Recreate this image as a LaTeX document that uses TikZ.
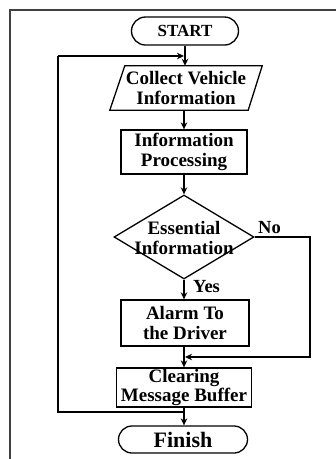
\documentclass[tikz,border=0pt]{standalone}
\usepackage{fontspec}
\setmainfont{Liberation Serif}
\usetikzlibrary{shapes.geometric,shapes.misc,arrows.meta,calc}
\begin{document}
\begin{tikzpicture}[x=1pt,y=1pt,
  every node/.style={font=\bfseries\fontsize{19}{19.5}\selectfont, align=center, inner sep=0pt},
  term/.style={draw, rounded rectangle, line width=1.3pt},
  proc/.style={draw, rectangle, line width=1.3pt},
  shp/.style={line width=1.3pt},
  conn/.style={line width=1.6pt},
  arr/.style={conn, -{Stealth[length=7pt,width=6.5pt]}}]
\useasboundingbox (0,0) rectangle (336,-459);
% frame
\coordinate (fb) at (10,-459);
\coordinate (fc) at (10,-10);
\coordinate (fr) at (336,-10);
\draw[line width=1.3pt, black!75] (fb) -- (fc) -- (fr);
% nodes
\node[term, minimum width=107, minimum height=28, font=\bfseries\fontsize{17}{19}\selectfont] (start) at (185,-31) {START};
\node[minimum width=152, minimum height=44] (collect) at (186,-88) {Collect Vehicle\\Information};
\draw[shp] ($(collect.north west)+(15,0)$) -- (collect.north east) -- ($(collect.south east)+(-14,0)$) -- (collect.south west) -- cycle;
\node[proc, minimum width=126, minimum height=44] (proc) at (184,-152) {Information\\Processing};
\node[draw, diamond, aspect=1.667, minimum width=140, minimum height=84, line width=1.3pt] (dec) at (184,-237) {};
\node (dectext) at (184,-238) {Essential\\Information};
\node[proc, minimum width=128, minimum height=46] (alarm) at (185,-323) {Alarm To\\the Driver};
\node[proc, minimum width=135, minimum height=39, font=\bfseries\fontsize{19}{16.5}\selectfont] (clear) at (184,-387.5) {Clearing\\Message Buffer};
\node[term, minimum width=129, minimum height=27, font=\bfseries\fontsize{22}{24}\selectfont] (finish) at (183,-439.5) {Finish};
% labels
\node[anchor=base west, font=\bfseries\fontsize{18.5}{19}\selectfont] (yeslab) at (193,-292) {Yes};
\node[anchor=base west, font=\bfseries\fontsize{18.5}{19}\selectfont] (nolab) at (258,-233) {No};
% connectors
\draw[arr] (start.south) -- (start.south |- collect.north);
\draw[arr] (proc.north |- collect.south) -- (proc.north);
\draw[arr] (proc.south) -- (dec.north);
\draw[arr] (dec.south) -- (dec.south |- alarm.north);
\draw[arr] (dec.south |- alarm.south) -- (dec.south |- clear.north);
\draw[arr] (dec.south |- clear.south) -- (dec.south |- finish.north);
% No branch
\coordinate (nr) at (310,-237);
\coordinate (nb) at (310,-357);
\coordinate (nm) at (185,-357);
\draw[arr] (dec.east) -- (nr) -- (nb) -- (nm);
% loop
\coordinate (ls) at (184,-412);
\coordinate (l1) at (58,-412);
\coordinate (l2) at (58,-56);
\coordinate (le) at (184,-56);
\draw[conn] (ls) -- (l1) -- (l2);
\draw[arr] (l2) -- (le);
\end{tikzpicture}
\end{document}
